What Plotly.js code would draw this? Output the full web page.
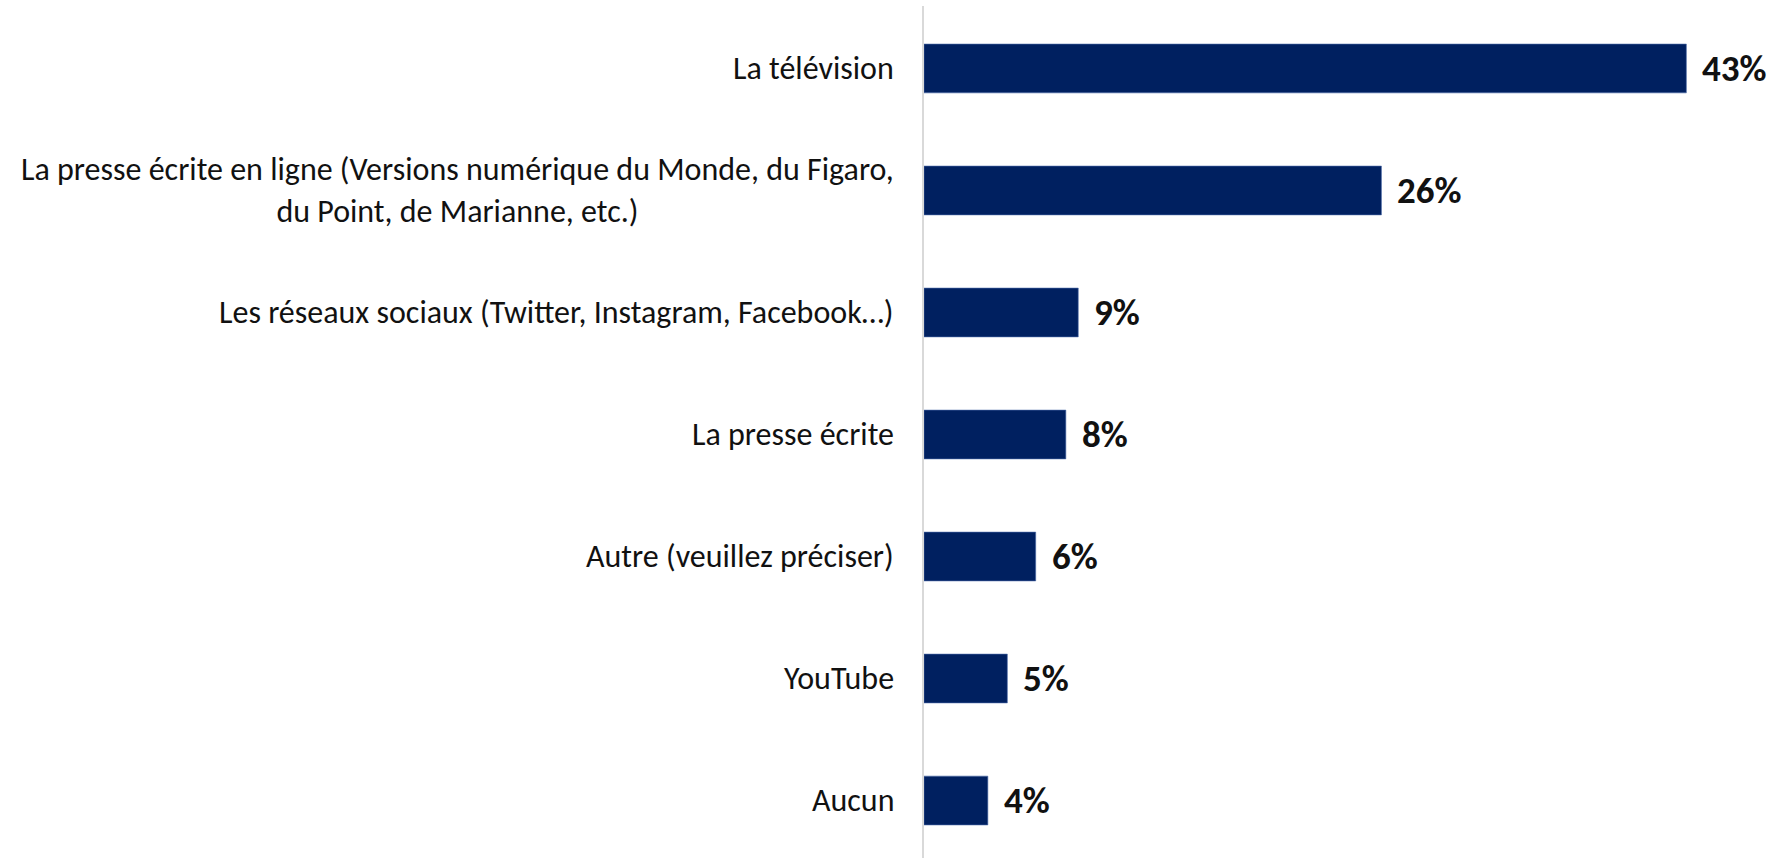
<!DOCTYPE html>
<html>
<head>
<meta charset="utf-8">
<script src="https://cdn.plot.ly/plotly-3.0.1.min.js"></script>
<style>html,body{margin:0;padding:0;background:#fff;}#chart{width:1775px;height:858px;}</style>
</head>
<body>
<div id="chart"></div>
<script>
const categories = [
  "La télévision",
  "La presse écrite en ligne (Versions numérique du Monde, du Figaro,<br>du Point, de Marianne, etc.)",
  "Les réseaux sociaux (Twitter, Instagram, Facebook…)",
  "La presse écrite",
  "Autre (veuillez préciser)",
  "YouTube",
  "Aucun"
];
const values = [43.0, 25.8, 8.7, 8.0, 6.3, 4.7, 3.6];

const FONT = "Carlito, Calibri, Lato, 'Open Sans', sans-serif";
const barColor = "#002060";

const trace = {
  type: "bar",
  orientation: "h",
  x: values,
  y: categories,
  marker: { color: barColor, line: { color: "#4a6aa8", width: 0.6 } },
  width: 0.4,
  hoverinfo: "skip",
  cliponaxis: false
};

const labelAnns = categories.map(c => ({
  xref: "paper", yref: "y", x: 0, y: c,
  xanchor: "right", yanchor: "middle", xshift: -28,
  align: "center", showarrow: false,
  text: c,
  font: { family: FONT, size: 32, color: "#111111" }
}));
const valueAnns = categories.map((c, i) => ({
  xref: "x", yref: "y", x: values[i], y: c,
  xanchor: "left", yanchor: "middle", xshift: 14,
  showarrow: false,
  text: "<b>" + Math.round(values[i]) + "%</b>",
  font: { family: FONT, size: 37, color: "#111111" }
}));

const layout = {
  width: 1775, height: 858,
  margin: { l: 924, r: 0, t: 6, b: 0 },
  paper_bgcolor: "#ffffff", plot_bgcolor: "#ffffff",
  showlegend: false,
  xaxis: { range: [0, 48], visible: false, fixedrange: true },
  yaxis: {
    type: "category",
    range: [6.471, -0.512],
    showticklabels: false,
    showgrid: false, zeroline: false, ticks: "",
    showline: true, linecolor: "#d9d9d9", linewidth: 2
  },
  annotations: labelAnns.concat(valueAnns),
  font: { family: FONT }
};

Plotly.newPlot("chart", [trace], layout, { displayModeBar: false, staticPlot: true });
</script>
</body>
</html>
